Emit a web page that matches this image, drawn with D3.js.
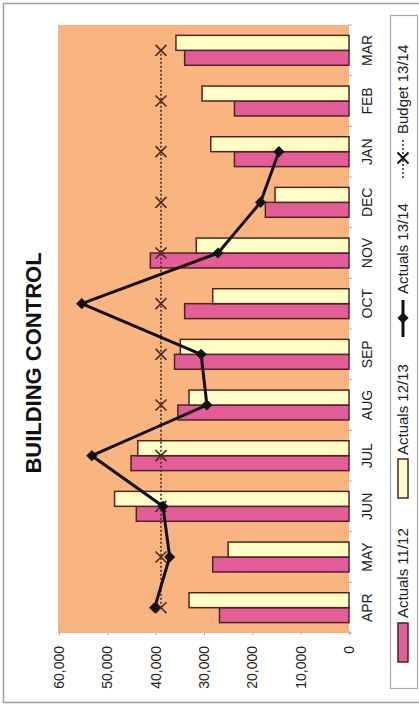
<!DOCTYPE html>
<html>
<head>
<meta charset="utf-8">
<script src="https://cdn.jsdelivr.net/npm/d3@7"></script>
<style>
  html, body { margin: 0; padding: 0; background: #ffffff; }
  svg { display: block; font-family: "Liberation Sans", Arial, sans-serif; }
</style>
</head>
<body>
<svg id="chart" width="419" height="705"></svg>
<script>
// Monthly building control income, drawn as a page turned on its side.
const months = ["APR", "MAY", "JUN", "JUL", "AUG", "SEP", "OCT", "NOV", "DEC", "JAN", "FEB", "MAR"];
const actuals1112 = [26800, 28200, 44000, 45100, 35400, 36100, 34000, 41100, 17300, 23700, 23700, 34000];
const actuals1213 = [33100, 25000, 48500, 43700, 33100, 34900, 28200, 31600, 15300, 28600, 30400, 35800];
const actuals1314 = [40200, 37100, 38500, 53200, 29400, 30600, 55300, 27100, 18300, 14500];
const budget1314  = [38900, 38900, 38900, 38900, 38900, 38900, 38900, 38900, 38900, 38900, 38900, 38900];
const valueTicks  = [0, 10000, 20000, 30000, 40000, 50000, 60000];
const seriesNames = ["Actuals 11/12", "Actuals 12/13", "Actuals 13/14", "Budget 13/14"];
const chartTitle  = "BUILDING CONTROL";

const colors = {
  plot: "#F9B47F",
  pink: "#E45C98",
  cream: "#FFFFC6",
  barStroke: "#4a2626",
  line: "#141010",
  budget: "#4a2e26",
  frame: "#a0a0a0"
};

const svg = d3.select("#chart");

// outer frame
svg.append("rect")
  .attr("x", 3.5).attr("y", 3.5).attr("width", 430).attr("height", 699)
  .attr("fill", "#ffffff").attr("stroke", colors.frame).attr("stroke-width", 1.5);

const plot = { left: 58, right: 349, top: 25, bottom: 633 };

// value runs right-to-left, months bottom-to-top
const x = d3.scaleLinear().domain([0, 60000]).range([plot.right, plot.left + 1]);
const y = d3.scaleBand().domain(months).range([plot.bottom, plot.top]).paddingInner(0.41).paddingOuter(0.205);
const ySub = d3.scaleBand().domain(["a1112", "a1213"]).range([y.bandwidth(), 0]);

svg.append("rect")
  .attr("x", plot.left).attr("y", plot.top)
  .attr("width", plot.right - plot.left).attr("height", plot.bottom - plot.top)
  .attr("fill", colors.plot);

// small tick marks along the value axis and the category axis
const valueAxis = d3.axisBottom(x).tickValues(valueTicks).tickSize(4).tickFormat("");
svg.append("g").attr("transform", `translate(0,${plot.bottom - 2})`).call(valueAxis)
  .call(g => g.select(".domain").remove())
  .call(g => g.selectAll("line").attr("stroke", "#b8a890"));

const bounds = d3.range(months.length + 1).map(i => plot.bottom - i * y.step());
svg.append("g").selectAll("line").data(bounds).join("line")
  .attr("x1", plot.right - 1).attr("x2", plot.right + 3)
  .attr("y1", d => d).attr("y2", d => d)
  .attr("stroke", "#b8a890");

// bars
const barGroups = svg.append("g").selectAll("g").data(months).join("g")
  .attr("transform", d => `translate(0,${y(d)})`);

barGroups.append("rect")
  .attr("x", (d, i) => x(actuals1112[i]))
  .attr("y", ySub("a1112"))
  .attr("width", (d, i) => x(0) - x(actuals1112[i]))
  .attr("height", ySub.bandwidth())
  .attr("fill", colors.pink).attr("stroke", colors.barStroke).attr("stroke-width", 1.5);

barGroups.append("rect")
  .attr("x", (d, i) => x(actuals1213[i]))
  .attr("y", ySub("a1213"))
  .attr("width", (d, i) => x(0) - x(actuals1213[i]))
  .attr("height", ySub.bandwidth())
  .attr("fill", colors.cream).attr("stroke", colors.barStroke).attr("stroke-width", 1.5);

const yc = m => y(m) + y.bandwidth() / 2;

// budget line
const budgetLine = d3.line().x(d => x(d.v)).y(d => yc(d.m));
const budgetData = budget1314.map((v, i) => ({ m: months[i], v }));
svg.append("path").datum(budgetData)
  .attr("d", budgetLine)
  .attr("fill", "none").attr("stroke", colors.budget)
  .attr("stroke-width", 1.6).attr("stroke-dasharray", "2,2");

const cross = d3.symbol().type(d3.symbolX).size(80);
svg.append("g").selectAll("path").data(budgetData).join("path")
  .attr("transform", d => `translate(${x(d.v)},${yc(d.m)})`)
  .attr("d", cross)
  .attr("fill", "none").attr("stroke", colors.budget).attr("stroke-width", 1.6);

// actuals 13/14 line
const actualData = actuals1314.map((v, i) => ({ m: months[i], v }));
svg.append("path").datum(actualData)
  .attr("d", budgetLine)
  .attr("fill", "none").attr("stroke", colors.line).attr("stroke-width", 3)
  .attr("stroke-linejoin", "round");

const diamond = d3.symbol().type(d3.symbolDiamond2).size(80);
svg.append("g").selectAll("path").data(actualData).join("path")
  .attr("transform", d => `translate(${x(d.v)},${yc(d.m)})`)
  .attr("d", diamond)
  .attr("fill", colors.line);

// value labels
svg.append("g").selectAll("text").data(valueTicks).join("text")
  .attr("transform", d => `translate(${x(d)},646) rotate(-90)`)
  .attr("text-anchor", "end")
  .attr("dy", "0.35em")
  .attr("font-size", 14)
  .attr("fill", "#222")
  .text(d => d3.format(",")(d));

// month labels
svg.append("g").selectAll("text").data(months).join("text")
  .attr("transform", d => `translate(367,${yc(d)}) rotate(-90)`)
  .attr("text-anchor", "middle")
  .attr("dy", "0.36em")
  .attr("font-size", 14)
  .attr("fill", "#222")
  .text(d => d);

// title
svg.append("text")
  .attr("transform", "translate(33,363) rotate(-90)")
  .attr("text-anchor", "middle")
  .attr("dy", "0.36em")
  .attr("font-size", 22)
  .attr("font-weight", "bold")
  .attr("fill", "#111")
  .text(chartTitle);

// legend
const lg = svg.append("g");
lg.append("rect")
  .attr("x", 390.5).attr("y", 15.5).attr("width", 27).attr("height", 673)
  .attr("fill", "#ffffff").attr("stroke", "#aaa").attr("stroke-width", 1.2);

const lx = 403;
lg.append("rect").attr("x", lx - 5).attr("y", 623).attr("width", 10).attr("height", 39)
  .attr("fill", colors.pink).attr("stroke", colors.barStroke).attr("stroke-width", 1.5);
lg.append("rect").attr("x", lx - 5).attr("y", 459).attr("width", 10).attr("height", 39)
  .attr("fill", colors.cream).attr("stroke", colors.barStroke).attr("stroke-width", 1.5);

lg.append("line").attr("x1", lx).attr("x2", lx).attr("y1", 300).attr("y2", 337)
  .attr("stroke", colors.line).attr("stroke-width", 3);
lg.append("path").attr("transform", `translate(${lx},318)`).attr("d", diamond).attr("fill", colors.line);

lg.append("line").attr("x1", lx).attr("x2", lx).attr("y1", 140).attr("y2", 180)
  .attr("stroke", colors.budget).attr("stroke-width", 1.6).attr("stroke-dasharray", "2,2");
lg.append("path").attr("transform", `translate(${lx},158)`).attr("d", cross)
  .attr("fill", "none").attr("stroke", colors.line).attr("stroke-width", 2);

const legendText = [
  { t: seriesNames[0], y: 618 },
  { t: seriesNames[1], y: 455 },
  { t: seriesNames[2], y: 294 },
  { t: seriesNames[3], y: 134 }
];
lg.selectAll("text.lt").data(legendText).join("text")
  .attr("class", "lt")
  .attr("transform", d => `translate(${lx},${d.y}) rotate(-90)`)
  .attr("text-anchor", "start")
  .attr("dy", "0.36em")
  .attr("font-size", 15)
  .attr("fill", "#222")
  .text(d => d.t);
</script>
</body>
</html>
